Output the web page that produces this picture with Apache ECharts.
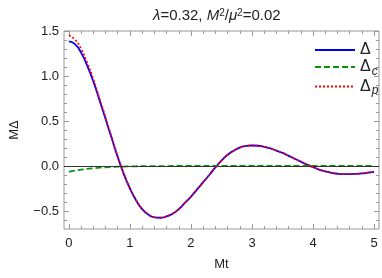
<!DOCTYPE html>
<html><head><meta charset="utf-8">
<script src="https://cdn.jsdelivr.net/npm/echarts@6/dist/echarts.min.js"></script>
<style>html,body{margin:0;padding:0;background:#fff}#c{width:382px;height:278px}</style>
</head><body><div id="c"></div>
<script>
var t = [0,0.1,0.2,0.3,0.4,0.5,0.6,0.7,0.8,0.9,1.0,1.1,1.2,1.3,1.4,1.5,1.6,1.7,1.8,1.9,2.0,2.1,2.2,2.3,2.4,2.5,2.6,2.7,2.8,2.9,3.0,3.1,3.2,3.3,3.4,3.5,3.6,3.7,3.8,3.9,4.0,4.1,4.2,4.3,4.4,4.5,4.6,4.7,4.8,4.9,5.0];
var delta = [1.385,1.355,1.26,1.115,0.94,0.735,0.525,0.31,0.10,-0.09,-0.25,-0.38,-0.48,-0.54,-0.57,-0.575,-0.56,-0.53,-0.48,-0.41,-0.34,-0.26,-0.18,-0.10,-0.015,0.06,0.125,0.17,0.205,0.222,0.228,0.225,0.213,0.195,0.17,0.145,0.113,0.08,0.048,0.015,-0.012,-0.04,-0.06,-0.076,-0.086,-0.09,-0.09,-0.088,-0.083,-0.074,-0.065];
var deltaC = [-0.066,-0.052,-0.041,-0.032,-0.025,-0.019,-0.015,-0.011,-0.008,-0.006,-0.004,-0.003,-0.002,-0.002,-0.001,-0.001,-0.001,0,0,0,0,0,0,0,0,0,0,0,0,0,0,0,0,0,0,0,0,0,0,0,0,0,0,0,0,0,0,0,0,0,0];
var deltaP = [1.451,1.407,1.301,1.147,0.965,0.754,0.54,0.321,0.108,-0.084,-0.246,-0.377,-0.478,-0.538,-0.569,-0.574,-0.559,-0.53,-0.48,-0.41,-0.34,-0.26,-0.18,-0.10,-0.015,0.06,0.125,0.17,0.205,0.222,0.228,0.225,0.213,0.195,0.17,0.145,0.113,0.08,0.048,0.015,-0.012,-0.04,-0.06,-0.076,-0.086,-0.09,-0.09,-0.088,-0.083,-0.074,-0.065];
var xMajor = [0,1,2,3,4,5];
var xMinor = [0.2,0.4,0.6,0.8,1.2,1.4,1.6,1.8,2.2,2.4,2.6,2.8,3.2,3.4,3.6,3.8,4.2,4.4,4.6,4.8];
var yMajor = [-0.5,0,0.5,1.0,1.5];
var yMinor = [-0.6,-0.4,-0.3,-0.2,-0.1,0.1,0.2,0.3,0.4,0.6,0.7,0.8,0.9,1.1,1.2,1.3,1.4];
var xLabels = ['0','1','2','3','4','5'];
var yLabels = ['\u22120.5','0.0','0.5','1.0','1.5'];

function zip(a,b){return a.map(function(v,i){return [v,b[i]];});}
var XMIN=-0.08, XMAX=5.08, YMIN=-0.7, YMAX=1.5;
var tickC = '#999';
var FF = 'Liberation Sans, Arial';
function xa(pos, vals, len, labels){
  return {type:'value', position:pos, min:XMIN, max:XMAX,
    axisLine:{show:false, onZero:false}, splitLine:{show:false},
    axisTick:{show:true, inside:true, length:len, customValues:vals, lineStyle:{color:tickC}},
    axisLabel:{show:!!labels, customValues:vals, margin:8, color:'#222', fontSize:13, fontFamily:FF,
      formatter:function(v){var i=xMajor.indexOf(Math.round(v*10)/10);return i>=0?xLabels[i]:'';}},
    name: labels? 'Mt':'', nameLocation:'middle', nameGap:29, nameTextStyle:{color:'#222',fontSize:13,fontFamily:FF}};
}
function ya(pos, vals, len, labels){
  return {type:'value', position:pos, min:YMIN, max:YMAX,
    axisLine:{show:false, onZero:false}, splitLine:{show:false},
    axisTick:{show:true, inside:true, length:len, customValues:vals, lineStyle:{color:tickC}},
    axisLabel:{show:!!labels, customValues:vals, margin:5, color:'#222', fontSize:13, fontFamily:FF,
      formatter:function(v){var i=yMajor.indexOf(Math.round(v*10)/10);return i>=0?yLabels[i]:'';}},
    name: labels? 'M\u0394':'', nameLocation:'middle', nameGap:43, nameRotate:90, nameTextStyle:{color:'#222',fontSize:13,fontFamily:FF}};
}
var chart = echarts.init(document.getElementById('c'), null, {renderer:'canvas'});
chart.setOption({
  animation:false,
  title:{text:'{i|\u03bb}=0.32, {i|M}{s|2}/{i|\u03bc}{s|2}=0.02', left:148, top:3,
    textStyle:{fontSize:15, fontWeight:'normal', color:'#222', fontFamily:FF,
      rich:{i:{fontStyle:'italic',fontSize:15,color:'#222',fontFamily:FF}, s:{fontSize:10,color:'#222',fontFamily:FF,padding:[0,0,6,0]}}}},
  grid:{left:60, right:3, top:31, bottom:49, show:true, borderColor:'#999', borderWidth:1},
  legend:{orient:'vertical', left:309, top:37, itemWidth:40, itemHeight:14, itemGap:1,
    itemStyle:{opacity:0},
    textStyle:{fontSize:15, color:'#222', fontFamily:FF,
      rich:{a:{fontSize:16,color:'#222',fontFamily:FF}, s:{fontSize:12,fontStyle:'italic',color:'#222',fontFamily:FF,padding:[9,0,0,1]}}},
    formatter:function(n){ if(n==='\u0394') return '{a|\u0394}'; return '{a|\u0394}{s|'+n.slice(1)+'}'; },
    data:['\u0394','\u0394c','\u0394p']},
  xAxis:[xa('bottom',xMajor,5,true), xa('bottom',xMinor,3,false), xa('top',xMajor,5,false), xa('top',xMinor,3,false)],
  yAxis:[ya('left',yMajor,5,true), ya('left',yMinor,3,false), ya('right',yMajor,5,false), ya('right',yMinor,3,false)],
  series:[
    {name:'\u0394', type:'line', data:zip(t,delta), smooth:true, symbol:'none', showSymbol:false,
      lineStyle:{color:'#0000ff', width:1.8}, itemStyle:{color:'#0000ff'}, z:3,
      markLine:{silent:true, symbol:'none', label:{show:false}, lineStyle:{color:'#333', width:1, type:'solid'}, data:[{yAxis:0}]}},
    {name:'\u0394c', type:'line', data:zip(t,deltaC), smooth:true, symbol:'none', showSymbol:false,
      lineStyle:{color:'#009900', width:1.8, type:[6,3]}, itemStyle:{color:'#009900'}, z:4},
    {name:'\u0394p', type:'line', data:zip(t,deltaP), smooth:true, symbol:'none', showSymbol:false,
      lineStyle:{color:'#ff0000', width:1.8, type:[2,2]}, itemStyle:{color:'#ff0000'}, z:5}
  ]
});
</script></body></html>
